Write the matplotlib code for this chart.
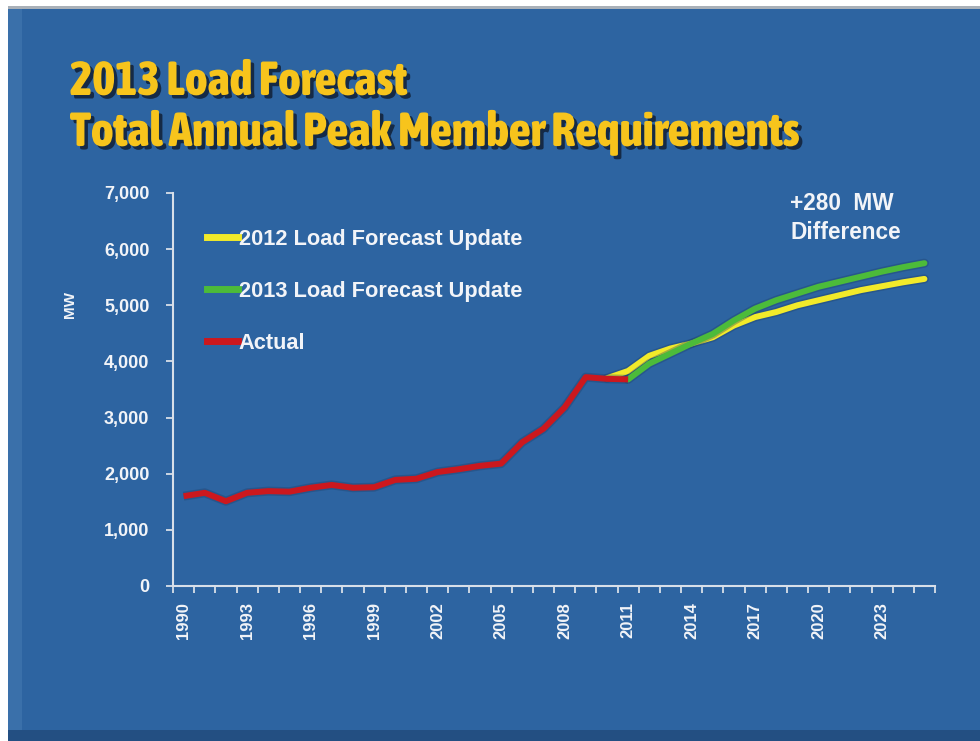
import matplotlib
matplotlib.use("Agg")
import matplotlib.pyplot as plt
import matplotlib.patheffects as pe
from matplotlib import font_manager as fm
from matplotlib.patches import Rectangle
from matplotlib.lines import Line2D
from matplotlib.ticker import FixedLocator, FuncFormatter, NullFormatter

# ---- data ----
actual_years = list(range(1990, 2012))
actual_mw = [1600, 1660, 1510, 1660, 1690, 1680, 1750, 1800, 1750, 1760, 1890,
             1910, 2030, 2080, 2140, 2180, 2560, 2800, 3180, 3720, 3690, 3680]

fc2012_years = list(range(2010, 2026))
fc2012_mw = [3700, 3830, 4100, 4230, 4320, 4430, 4640, 4790, 4880, 5000, 5090,
             5180, 5270, 5340, 5410, 5470]

fc2013_years = list(range(2011, 2026))
fc2013_mw = [3680, 3960, 4140, 4320, 4490, 4730, 4940, 5090, 5210, 5330, 5420,
             5510, 5600, 5680, 5750]

label_years = list(range(1990, 2025, 3))
y_ticks = [0, 1000, 2000, 3000, 4000, 5000, 6000, 7000]

series_labels = ["2012 Load Forecast Update", "2013 Load Forecast Update", "Actual"]

# ---- style ----
BG = "#2d64a1"
WHITE = "#f2f4f8"
YELLOW = "#f2ea2a"
GREEN = "#4cbb3a"
RED = "#cc181e"
FONT = ["Liberation Sans", "DejaVu Sans"]
plt.rcParams["font.family"] = FONT
plt.rcParams["font.weight"] = "bold"


def find_condensed():
    """Look for an installed condensed/narrow bold face for the title."""
    best = None
    for f in fm.fontManager.ttflist:
        name = f.name.lower()
        fname = f.fname.lower()
        st = str(f.stretch).lower()
        cond = ("condensed" in name or "narrow" in name or "condensed" in fname
                or "narrow" in fname or "condensed" in st
                or (isinstance(f.stretch, (int, float)) and f.stretch < 500))
        if not cond:
            continue
        w = f.weight if isinstance(f.weight, (int, float)) else (
            700 if "bold" in str(f.weight).lower() else 400)
        if "italic" in fname or f.style != "normal":
            continue
        score = w + (200 if "bold" in fname else 0)
        if best is None or score > best[0]:
            best = (score, f.fname)
    return best[1] if best else None


cond_path = find_condensed()
if cond_path:
    title_prop = fm.FontProperties(fname=cond_path, size=35)
else:
    title_prop = fm.FontProperties(family=FONT, weight="bold", size=27.5)

fig = plt.figure(figsize=(9.8, 7.41), dpi=100)
fig.patch.set_facecolor(BG)

# frame decorations (white margin, grey top rule, dark bottom band)
fig.patches.append(Rectangle((0, 0), 8 / 980, 1, transform=fig.transFigure,
                             facecolor="white", edgecolor="none", zorder=0))
fig.patches.append(Rectangle((0, 1 - 6 / 741), 1, 6 / 741, transform=fig.transFigure,
                             facecolor="white", edgecolor="none", zorder=0))
fig.patches.append(Rectangle((8 / 980, 1 - 9 / 741), 1, 3 / 741, transform=fig.transFigure,
                             facecolor="#a9b0b8", edgecolor="none", zorder=0))
fig.patches.append(Rectangle((8 / 980, 0), 1, 11 / 741, transform=fig.transFigure,
                             facecolor="#234f82", edgecolor="none", zorder=0))
fig.patches.append(Rectangle((8 / 980, 11 / 741), 14 / 980, 1 - 20 / 741, transform=fig.transFigure,
                             facecolor="#3a70aa", edgecolor="none", zorder=0))

ax = fig.add_axes([173 / 980, 1 - 586 / 741, (935 - 173) / 980, (586 - 193) / 741])
ax.set_facecolor("none")

glow = [pe.Stroke(linewidth=6.5, foreground="#1c3d66", alpha=0.35), pe.Normal()]
ax.plot(fc2012_years, fc2012_mw, color=YELLOW, lw=4.3, solid_capstyle="round",
        path_effects=glow, zorder=3)
ax.plot(fc2013_years, fc2013_mw, color=GREEN, lw=4.3, solid_capstyle="round",
        path_effects=glow, zorder=4)
ax.plot(actual_years, actual_mw, color=RED, lw=4.3, solid_capstyle="butt",
        path_effects=glow, zorder=5)

ax.set_xlim(1989.5, 2025.5)
ax.set_ylim(0, 7000)

for s in ["top", "right"]:
    ax.spines[s].set_visible(False)
for s in ["left", "bottom"]:
    ax.spines[s].set_color("#d8dfe9")
    ax.spines[s].set_linewidth(1.5)

ax.xaxis.set_major_locator(FixedLocator(label_years))
ax.xaxis.set_minor_locator(FixedLocator([y - 0.5 for y in range(1990, 2027)]))
ax.xaxis.set_minor_formatter(NullFormatter())
ax.tick_params(axis="x", which="major", length=0, pad=11.5, labelsize=12,
               labelcolor=WHITE, labelrotation=90)
ax.tick_params(axis="x", which="minor", length=5, width=1.3, color="#d8dfe9",
               direction="out")
for lbl in ax.get_xticklabels():
    lbl.set_fontweight("bold")

ax.set_yticks(y_ticks)
ax.yaxis.set_major_formatter(FuncFormatter(lambda v, p: f"{int(v):,}"))
ax.tick_params(axis="y", length=5, width=1.3, color="#d8dfe9", direction="out",
               pad=12, labelsize=13, labelcolor=WHITE)
for lbl in ax.get_yticklabels():
    lbl.set_fontweight("bold")

fig.text(70 / 980, 1 - 305 / 741, "MW", rotation=90, ha="center", va="center",
         color=WHITE, fontsize=11, fontweight="bold")

# legend
handles = [Line2D([], [], color=YELLOW, lw=5),
           Line2D([], [], color=GREEN, lw=5),
           Line2D([], [], color=RED, lw=5)]
leg = ax.legend(handles, series_labels, loc="upper left",
                bbox_to_anchor=((207 - 173) / 762, (586 - 229) / 393),
                frameon=False, fontsize=15.7, handlelength=1.4, handletextpad=0.05,
                labelspacing=1.42, borderpad=0, borderaxespad=0)
for t in leg.get_texts():
    t.set_color(WHITE)
    t.set_fontweight("bold")

fig.text(790 / 980, 1 - 203 / 741, "+280  MW", ha="left", va="center",
         color=WHITE, fontsize=16.3, fontweight="bold")
fig.text(790 / 980, 1 - 232 / 741, "Difference", ha="left", va="center",
         color=WHITE, fontsize=16.3, fontweight="bold")

# title
title_fx = [pe.withSimplePatchShadow(offset=(2.5, -2.5), shadow_rgbFace="#13243c", alpha=0.9)]
t1 = fig.text(70 / 980, 1 - 95 / 741, "2013 Load Forecast", ha="left", va="baseline",
              color="#f7c41c", fontproperties=title_prop, path_effects=title_fx)
t2 = fig.text(70 / 980, 1 - 146 / 741, "Total Annual Peak Member Requirements", ha="left",
              va="baseline", color="#f7c41c", fontproperties=title_prop,
              path_effects=title_fx)

# fit the second title line to the reference width (about 730 px)
fig.canvas.draw()
r = fig.canvas.get_renderer()
w = t2.get_window_extent(r).width
if w > 0:
    scale = 730.0 / w
    newsize = title_prop.get_size() * scale
    newsize = max(20, min(newsize, 42))
    for t in (t1, t2):
        t.set_fontsize(newsize)

fig.savefig("out.png", dpi=100, facecolor=fig.get_facecolor())
